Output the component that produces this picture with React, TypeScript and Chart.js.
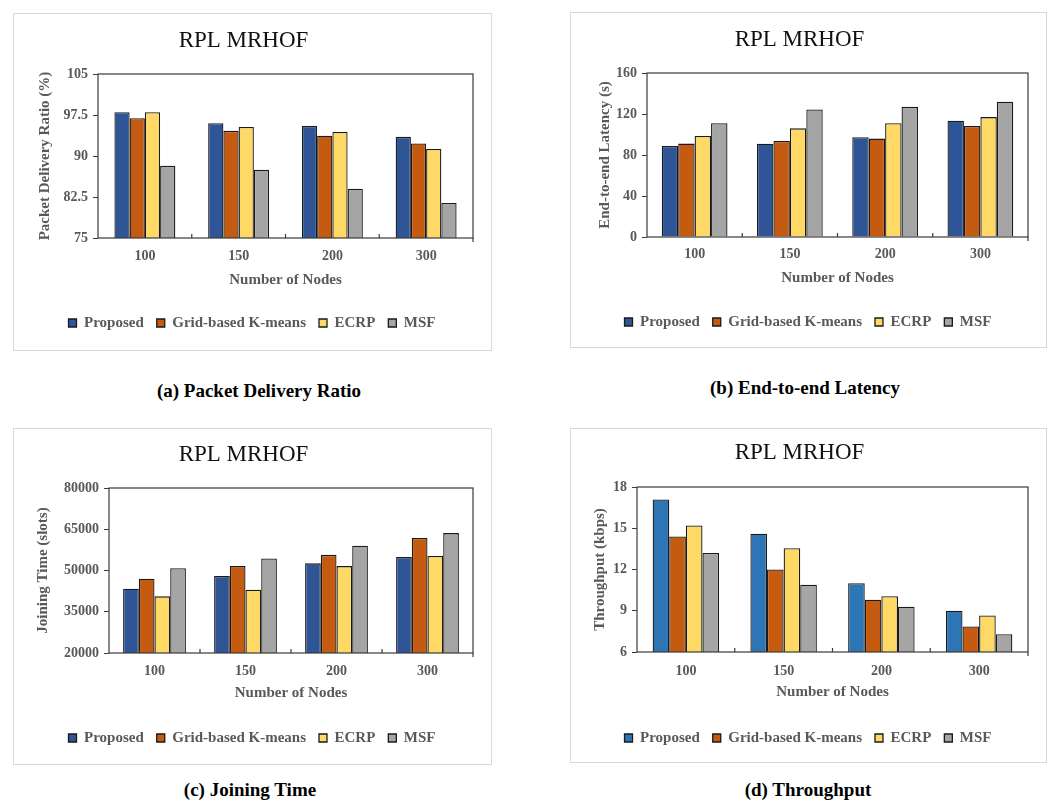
import React, { useEffect, useRef } from 'react';
import { Chart, registerables } from 'chart.js';

Chart.register(...registerables);

// ---------- data ----------
const categories = ['100', '150', '200', '300'];
const seriesNames = ['Proposed', 'Grid-based K-means', 'ECRP', 'MSF'];

const pdrProposed = [98.0, 96.0, 95.5, 93.5];
const pdrGrid = [96.9, 94.6, 93.7, 92.3];
const pdrEcrp = [98.0, 95.3, 94.4, 91.3];
const pdrMsf = [88.2, 87.5, 84.0, 81.4];
const pdrTicks = [75, 82.5, 90, 97.5, 105];

const latProposed = [88.8, 91.0, 97.3, 113.5];
const latGrid = [91.1, 93.7, 96.0, 108.4];
const latEcrp = [98.6, 106.0, 111.0, 117.0];
const latMsf = [111.0, 124.5, 127.0, 132.0];
const latTicks = [0, 40, 80, 120, 160];

const joinProposed = [43400, 48000, 52600, 54900];
const joinGrid = [47000, 51600, 55700, 61800];
const joinEcrp = [40600, 43000, 51600, 55300];
const joinMsf = [50800, 54400, 59000, 63600];
const joinTicks = [20000, 35000, 50000, 65000, 80000];

const thrProposed = [17.1, 14.6, 11.0, 9.0];
const thrGrid = [14.4, 12.0, 9.8, 7.85];
const thrEcrp = [15.2, 13.55, 10.05, 8.65];
const thrMsf = [13.2, 10.9, 9.3, 7.3];
const thrTicks = [6, 9, 12, 15, 18];

// ---------- styles ----------
const FONT = '"Liberation Serif", "Times New Roman", serif';
const GRAY = '#595959';
const ORANGE = '#C55A11';
const YELLOW = '#FFD966';
const SILVER = '#A5A5A5';
const DARKBLUE = '#2F5597';
const MIDBLUE = '#2E75B6';

const framePlugin = {
  id: 'frame',
  afterLayout(chart: any) {
    const lg = chart.legend;
    if (lg) {
      const dx = 8.5;
      lg.left += dx;
      lg.right += dx;
    }
  },
  afterDatasetsDraw(chart: any) {
    const { ctx, chartArea } = chart;
    const { left, top, right, bottom } = chartArea;
    ctx.save();
    ctx.strokeStyle = '#3a3a3a';
    ctx.lineWidth = 1.2;
    ctx.strokeRect(left, top, right - left, bottom - top);
    const xs = chart.scales.x;
    const n = chart.data.labels.length;
    ctx.beginPath();
    for (let i = 1; i < n; i++) {
      const x = (xs.getPixelForTick(i - 1) + xs.getPixelForTick(i)) / 2;
      ctx.moveTo(x, bottom);
      ctx.lineTo(x, bottom - 4);
    }
    ctx.moveTo(right, bottom);
    ctx.lineTo(right, bottom + 4);
    ctx.stroke();
    ctx.restore();
  },
};

type Cfg = {
  box: { x: number; y: number; w: number; h: number };
  plot: { l: number; t: number; r: number; b: number };
  titleY: number;
  tickY: number;
  axisTitleY: number;
  legendY: number;
  yTitleX: number;
  yTitle: string;
  yTicks: number[];
  values: number[][];
  colors: string[];
  catPct: number;
  caption: string;
  capX: number;
  capY: number;
};

const cfgs: Cfg[] = [
  {
    box: { x: 13, y: 13, w: 479, h: 338 },
    plot: { l: 98, t: 74, r: 473, b: 238 },
    titleY: 41, tickY: 256, axisTitleY: 280, legendY: 323, yTitleX: 45,
    yTitle: 'Packet Delivery Ratio (%)', yTicks: pdrTicks,
    values: [pdrProposed, pdrGrid, pdrEcrp, pdrMsf],
    colors: [DARKBLUE, ORANGE, YELLOW, SILVER], catPct: 0.65,
    caption: '(a) Packet Delivery Ratio', capX: 259, capY: 391,
  },
  {
    box: { x: 570, y: 12, w: 477, h: 336 },
    plot: { l: 647, t: 73, r: 1028, b: 237 },
    titleY: 40, tickY: 254, axisTitleY: 278, legendY: 322, yTitleX: 605,
    yTitle: 'End-to-end Latency (s)', yTicks: latTicks,
    values: [latProposed, latGrid, latEcrp, latMsf],
    colors: [DARKBLUE, ORANGE, YELLOW, SILVER], catPct: 0.69,
    caption: '(b) End-to-end Latency', capX: 805, capY: 388,
  },
  {
    box: { x: 13, y: 428, w: 479, h: 337 },
    plot: { l: 109, t: 488, r: 473, b: 653 },
    titleY: 455, tickY: 671, axisTitleY: 693, legendY: 738, yTitleX: 43,
    yTitle: 'Joining Time (slots)', yTicks: joinTicks,
    values: [joinProposed, joinGrid, joinEcrp, joinMsf],
    colors: [DARKBLUE, ORANGE, YELLOW, SILVER], catPct: 0.69,
    caption: '(c) Joining Time', capX: 250, capY: 790,
  },
  {
    box: { x: 570, y: 428, w: 477, h: 335 },
    plot: { l: 637, t: 487, r: 1028, b: 652 },
    titleY: 453, tickY: 671, axisTitleY: 692, legendY: 738, yTitleX: 600,
    yTitle: 'Throughput (kbps)', yTicks: thrTicks,
    values: [thrProposed, thrGrid, thrEcrp, thrMsf],
    colors: [MIDBLUE, ORANGE, YELLOW, SILVER], catPct: 0.68,
    caption: '(d) Throughput', capX: 808, capY: 790,
  },
];

function Panel({ cfg }: { cfg: Cfg }) {
  const ref = useRef<HTMLCanvasElement | null>(null);
  const W = cfg.box.w - 2;
  const H = cfg.box.h - 2;
  useEffect(() => {
    const ox = cfg.box.x + 1;
    const oy = cfg.box.y + 1;
    const pl = cfg.plot.l - ox;
    const pt = cfg.plot.t - oy;
    const pr = cfg.plot.r - ox;
    const pb = cfg.plot.b - oy;
    const titleFont = 23;
    const titleLH = titleFont * 1.2;
    const tY = cfg.titleY - oy;
    const legPad = 13;
    const legFont = 15;
    const legTop = cfg.legendY - oy - legPad - legFont / 2;
    const legH = legFont + legPad + 10;
    const bottomPad = Math.max(0, H - (legTop + legH));
    const xHeight = legTop - pb;
    const tickPad = cfg.tickY - oy - 8.4 - pb;
    const xTitlePadBottom = legTop - 9 - (cfg.axisTitleY - oy);
    const yTitlePad = cfg.yTitleX - ox - 9;
    const ticks = cfg.yTicks;

    const chart = new Chart(ref.current as HTMLCanvasElement, {
      type: 'bar',
      data: {
        labels: categories,
        datasets: seriesNames.map((name, i) => ({
          label: name,
          data: cfg.values[i],
          backgroundColor: cfg.colors[i],
          borderColor: '#1a1a1a',
          borderWidth: 1.3,
          categoryPercentage: cfg.catPct,
          barPercentage: 1.0,
        })),
      },
      options: {
        responsive: false,
        animation: false,
        layout: { padding: { left: 0, top: 0, right: W - pr, bottom: bottomPad } },
        plugins: {
          tooltip: { enabled: false },
          title: {
            display: true,
            text: 'RPL MRHOF',
            color: '#111',
            font: { family: FONT, size: titleFont, weight: 'normal', lineHeight: 1.2 },
            padding: { top: tY - titleLH / 2, bottom: pt - tY - titleLH / 2 },
          },
          legend: {
            display: true,
            position: 'bottom',
            labels: {
              boxWidth: 8,
              boxHeight: 8,
              padding: legPad,
              color: GRAY,
              font: { family: FONT, size: legFont, weight: 'bold' },
            },
          },
        },
        scales: {
          x: {
            type: 'category',
            offset: true,
            grid: { display: false, drawTicks: false },
            border: { display: false },
            ticks: {
              color: GRAY,
              padding: tickPad,
              font: { family: FONT, size: 14, weight: 'bold' },
            },
            title: {
              display: true,
              text: 'Number of Nodes',
              color: GRAY,
              font: { family: FONT, size: 15, weight: 'bold', lineHeight: 1.2 },
              padding: { top: 0, bottom: xTitlePadBottom },
            },
            afterFit: (s: any) => {
              s.height = xHeight;
            },
          },
          y: {
            type: 'linear',
            min: ticks[0],
            max: ticks[ticks.length - 1],
            afterBuildTicks: (s: any) => {
              s.ticks = ticks.map((v) => ({ value: v }));
            },
            grid: {
              display: true,
              drawOnChartArea: false,
              drawTicks: true,
              tickLength: 5,
              color: '#3a3a3a',
            },
            border: { display: false },
            ticks: {
              color: GRAY,
              padding: 5,
              font: { family: FONT, size: 14, weight: 'bold' },
              callback: (v: any) => String(v),
            },
            title: {
              display: true,
              text: cfg.yTitle,
              color: GRAY,
              font: { family: FONT, size: 15, weight: 'bold', lineHeight: 1.2 },
              padding: { top: yTitlePad, bottom: 0 },
            },
            afterFit: (s: any) => {
              s.width = pl;
            },
          },
        },
      },
      plugins: [framePlugin],
    } as any);
    return () => chart.destroy();
  }, []);

  return (
    <>
      <div
        style={{
          position: 'absolute',
          left: cfg.box.x,
          top: cfg.box.y,
          width: cfg.box.w,
          height: cfg.box.h,
          border: '1px solid #d9d9d9',
          boxSizing: 'border-box',
          background: '#fff',
        }}
      >
        <canvas ref={ref} width={W} height={H} style={{ display: 'block' }} />
      </div>
      <div
        style={{
          position: 'absolute',
          left: cfg.capX,
          top: cfg.capY,
          transform: 'translate(-50%, -50%)',
          whiteSpace: 'nowrap',
          fontFamily: FONT,
          fontWeight: 'bold',
          fontSize: 19,
          color: '#000',
        }}
      >
        {cfg.caption}
      </div>
    </>
  );
}

export default function App() {
  return (
    <div
      style={{
        position: 'absolute',
        left: 0,
        top: 0,
        width: 1051,
        height: 802,
        background: '#fff',
        overflow: 'hidden',
      }}
    >
      {cfgs.map((c, i) => (
        <Panel key={i} cfg={c} />
      ))}
    </div>
  );
}
